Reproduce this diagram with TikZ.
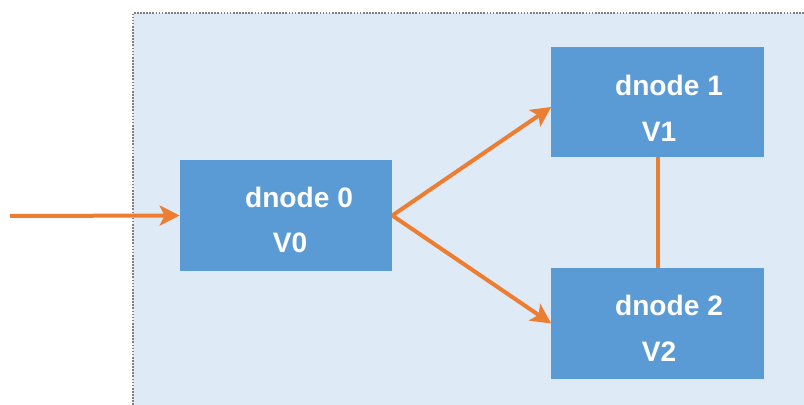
\documentclass[tikz,border=0pt]{standalone}
\usepackage{fontspec}
\setmainfont{Liberation Sans}
\usetikzlibrary{arrows.meta}
\definecolor{bgblue}{RGB}{222,234,246}
\definecolor{boxblue}{RGB}{91,155,213}
\definecolor{flowor}{RGB}{237,125,49}
\tikzset{
  dbox/.style={fill=boxblue,draw=none,minimum width=5.3cm,minimum height=2.76cm,inner sep=0pt},
  lbl/.style={text=white,font=\bfseries\fontsize{20}{24}\selectfont,inner sep=0pt},
  flow/.style={flowor,line width=0.1cm},
  flowarr/.style={flow,-{Stealth[length=0.5cm,width=0.5cm,inset=0.12cm]}}
}
\begin{document}
\begin{tikzpicture}[x=0.025cm,y=-0.025cm]
      \useasboundingbox (0,0) rectangle (804,405);
      \fill[bgblue] (133,13) rectangle (804,405);
      \draw[gray,densely dotted,line width=1.2pt] (133,405) -- (133,13) -- (804,13);
      % data nodes
      \node[dbox] (n0) at (286,215.5) {};
      \node[dbox] (n1) at (657.5,102) {};
      \node[dbox] (n2) at (657.5,323.5) {};
      \node[lbl] (t0) at ([shift={(13,-18.5)}]n0.center) {dnode 0};
      \node[lbl] (v0) at ([shift={(4,27)}]n0.center) {V0};
      \node[lbl] (t1) at ([shift={(11.5,-17)}]n1.center) {dnode 1};
      \node[lbl] (v1) at ([shift={(1.5,30)}]n1.center) {V1};
      \node[lbl] (t2) at ([shift={(11.5,-18.5)}]n2.center) {dnode 2};
      \node[lbl] (v2) at ([shift={(1.5,28.5)}]n2.center) {V2};
      % connectors
      \coordinate (in) at (10,216);
      \draw[flowarr] (in) -- (n0.west);
      \draw[flowarr] (n0.east) -- ([shift={(0,5)}]n1.west);
      \draw[flowarr] (n0.east) -- (n2.west);
      \draw[flow] (n1.south) -- (n2.north);
    \end{tikzpicture}
\end{document}
